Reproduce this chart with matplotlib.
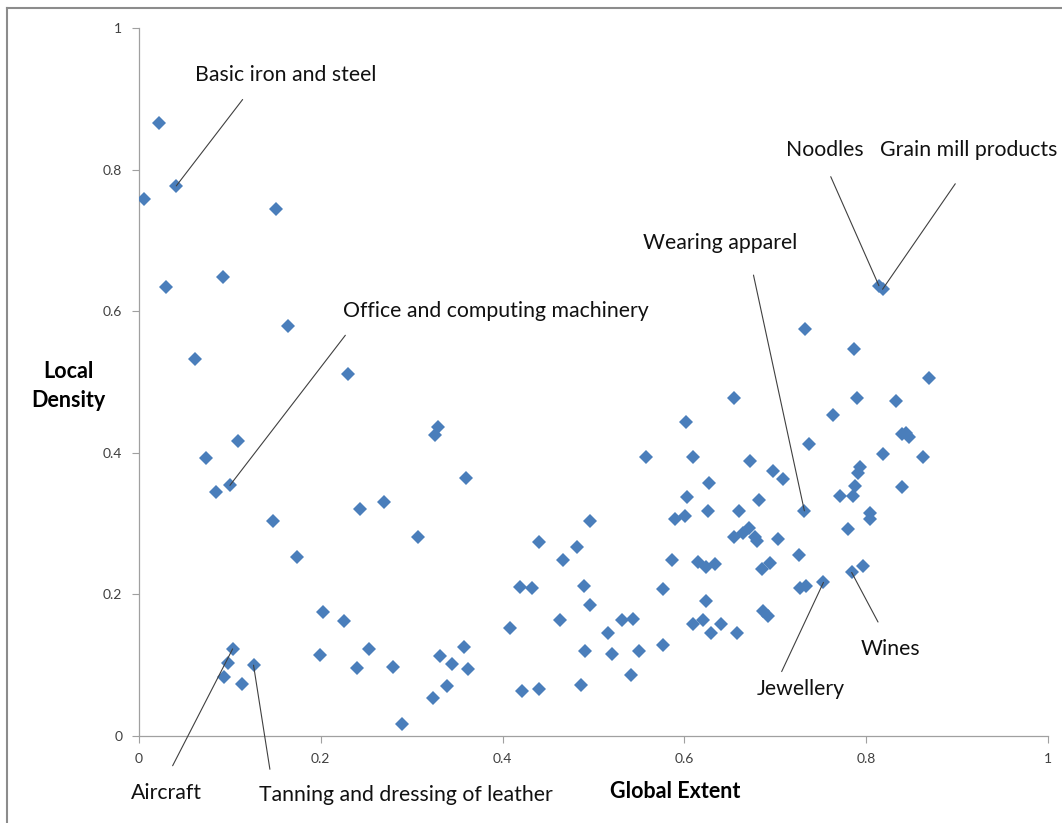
import matplotlib
matplotlib.use("Agg")
import matplotlib.pyplot as plt
from matplotlib.lines import Line2D

plt.rcParams['font.family'] = ['Lato', 'DejaVu Sans']

# global extent / local density of each industry
global_extent = [
    0.022, 0.041, 0.006, 0.151, 0.030, 0.092, 0.164, 0.062, 0.230,
    0.074, 0.109, 0.085, 0.100, 0.147, 0.174, 0.243, 0.270, 0.307, 0.326, 0.329, 0.360,
    0.202, 0.226, 0.199, 0.253, 0.240, 0.279, 0.289, 0.323, 0.331, 0.339, 0.344, 0.358, 0.362,
    0.103, 0.098, 0.093, 0.113, 0.126,
    0.408, 0.419, 0.432, 0.421, 0.440, 0.440, 0.466, 0.463, 0.482, 0.490, 0.496, 0.491, 0.486,
    0.496, 0.516, 0.520, 0.531, 0.544, 0.550, 0.541, 0.558, 0.576, 0.577, 0.586, 0.590, 0.601,
    0.603, 0.602, 0.609, 0.609, 0.615, 0.624, 0.634, 0.621, 0.624, 0.629, 0.640, 0.626, 0.627,
    0.655, 0.658, 0.660, 0.655, 0.665, 0.671, 0.672,
    0.814, 0.818, 0.733, 0.787, 0.869, 0.790, 0.833, 0.763, 0.737, 0.839, 0.844, 0.847,
    0.818, 0.863, 0.698, 0.709, 0.793, 0.791, 0.788, 0.839, 0.771, 0.786, 0.682,
    0.732, 0.678, 0.680, 0.703, 0.726, 0.685, 0.694, 0.727, 0.734, 0.753, 0.784, 0.797,
    0.780, 0.804, 0.804, 0.686, 0.692,
]
local_density = [
    0.866, 0.777, 0.758, 0.744, 0.634, 0.648, 0.579, 0.533, 0.511,
    0.392, 0.417, 0.344, 0.354, 0.304, 0.253, 0.321, 0.331, 0.281, 0.425, 0.436, 0.364,
    0.175, 0.163, 0.114, 0.123, 0.096, 0.098, 0.017, 0.053, 0.113, 0.071, 0.101, 0.126, 0.095,
    0.123, 0.103, 0.084, 0.073, 0.100,
    0.153, 0.211, 0.209, 0.063, 0.067, 0.274, 0.249, 0.164, 0.267, 0.212, 0.185, 0.120, 0.072,
    0.304, 0.145, 0.116, 0.164, 0.165, 0.120, 0.086, 0.394, 0.128, 0.208, 0.248, 0.306, 0.311,
    0.338, 0.443, 0.394, 0.158, 0.246, 0.239, 0.243, 0.164, 0.191, 0.146, 0.158, 0.318, 0.358,
    0.478, 0.145, 0.318, 0.281, 0.287, 0.294, 0.389,
    0.636, 0.631, 0.575, 0.547, 0.506, 0.478, 0.473, 0.454, 0.413, 0.426, 0.428, 0.423,
    0.398, 0.394, 0.374, 0.363, 0.380, 0.372, 0.353, 0.352, 0.339, 0.339, 0.334,
    0.318, 0.281, 0.276, 0.278, 0.255, 0.236, 0.244, 0.209, 0.212, 0.217, 0.231, 0.240,
    0.292, 0.315, 0.307, 0.176, 0.169,
]

# label, labelled point, text position, line start (all data coords)
labels = ["Basic iron and steel", "Office and computing machinery", "Aircraft",
          "Tanning and dressing of leather", "Wearing apparel", "Noodles",
          "Grain mill products", "Wines", "Jewellery"]
label_points = [(0.041, 0.777), (0.100, 0.354), (0.103, 0.123), (0.126, 0.100),
                (0.732, 0.318), (0.814, 0.636), (0.818, 0.631), (0.784, 0.231),
                (0.753, 0.217)]
text_pos = [(0.062, 0.934), (0.224, 0.600), (-0.009, -0.080), (0.132, -0.084),
            (0.554, 0.696), (0.712, 0.828), (0.815, 0.828), (0.794, 0.123),
            (0.680, 0.066)]
line_starts = [(0.114, 0.899), (0.227, 0.566), (0.037, -0.042), (0.144, -0.047),
               (0.676, 0.651), (0.761, 0.790), (0.898, 0.780), (0.813, 0.161),
               (0.707, 0.091)]

blue = '#4a7ebb'
axis_grey = '#a0a0a0'

fig = plt.figure(figsize=(10.62, 8.23), dpi=100)
ax = fig.add_axes([139 / 1062, 1 - 736 / 823, 909 / 1062, 708 / 823])

ax.plot(global_extent, local_density, linestyle='none', marker='D',
        markersize=6.8, color=blue, markeredgewidth=0, zorder=3)

for lab, pt, tp, ls in zip(labels, label_points, text_pos, line_starts):
    ax.annotate('', xy=pt, xytext=ls,
                arrowprops=dict(arrowstyle='-', color='#404040', lw=0.8,
                                shrinkA=0, shrinkB=0),
                annotation_clip=False)
    ax.text(tp[0], tp[1], lab, fontsize=15.3, color='#111111',
            ha='left', va='center', clip_on=False)

ax.set_xlim(0, 1)
ax.set_ylim(0, 1)
ticks = [0, 0.2, 0.4, 0.6, 0.8, 1]
ax.set_xticks(ticks)
ax.set_yticks(ticks)
ax.set_xticklabels(['0', '0.2', '0.4', '0.6', '0.8', '1'])
ax.set_yticklabels(['0', '0.2', '0.4', '0.6', '0.8', '1'])
ax.tick_params(direction='out', length=5, width=0.8, color=axis_grey,
               labelsize=10, labelcolor='#404040', pad=7)
for side in ['top', 'right']:
    ax.spines[side].set_visible(False)
for side in ['left', 'bottom']:
    ax.spines[side].set_color(axis_grey)
    ax.spines[side].set_linewidth(0.9)

fig.text(68 / 1062, 1 - 386 / 823, 'Local\nDensity', fontsize=15.5,
         fontweight='bold', ha='center', va='center', linespacing=1.45)
fig.text(675 / 1062, 1 - 792 / 823, 'Global Extent', fontsize=15.5,
         fontweight='bold', ha='center', va='center')

# outer frame (top and left edges visible)
fig.add_artist(Line2D([7 / 1062, 1], [1 - 8 / 823, 1 - 8 / 823],
                      transform=fig.transFigure, color='#8c8c8c', lw=1.5))
fig.add_artist(Line2D([7 / 1062, 7 / 1062], [0, 1 - 8 / 823],
                      transform=fig.transFigure, color='#8c8c8c', lw=1.5))

fig.savefig('out.png', dpi=100)
